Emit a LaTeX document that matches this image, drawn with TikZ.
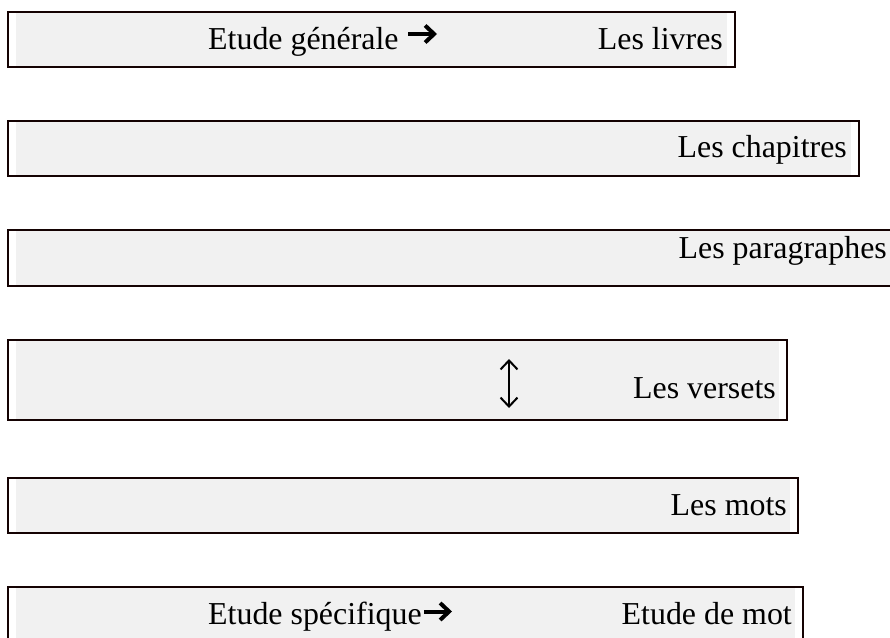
\documentclass[tikz,border=0pt]{standalone}
\usepackage{fontspec}
\setmainfont{Liberation Serif}
\usetikzlibrary{backgrounds,arrows.meta}
\definecolor{frameclr}{RGB}{20,2,2}
\definecolor{shadeclr}{RGB}{241,241,241}
\tikzset{
  frame/.style={draw=frameclr, line width=2pt, inner sep=0pt, anchor=north west, rectangle},
  shadefill/.style={fill=shadeclr},
  lbl/.style={font=\fontsize{31.9}{36}\selectfont, inner sep=0pt, text=black},
  lblL/.style={lbl, anchor=base west},
  lblR/.style={lbl, anchor=base east},
  heavyarrow/.style={line width=4pt, black, -{Straight Barb[length=9pt,width=17pt,line width=4pt]}},
}
\begin{document}
\begin{tikzpicture}[x=1pt,y=-1pt]
\useasboundingbox (0,0) rectangle (890,637);
\clip (0,0) rectangle (890,637);
% frames
\node[frame, minimum width=727pt, minimum height=55pt] (b1) at (7,11) {};
\node[frame, minimum width=851pt, minimum height=55pt] (b2) at (7,120) {};
\node[frame, minimum width=900pt, minimum height=56pt] (b3) at (7,229) {};
\node[frame, minimum width=779pt, minimum height=80pt] (b4) at (7,339) {};
\node[frame, minimum width=790pt, minimum height=55pt] (b5) at (7,477) {};
\node[frame, minimum width=795pt, minimum height=70pt] (b6) at (7,586) {};
\begin{scope}[on background layer]
  \foreach \b in {b1,b2,b3,b4,b5,b6}{
    \fill[shadefill] ([xshift=9pt]\b.north west) rectangle ([xshift=-9pt]\b.south east);
  }
\end{scope}
% texts
\node[lblL] (t1a) at (208,49) {Etude générale};
\node[lblR] (t1b) at (723,49) {Les livres};
\node[lblR] (t2) at (847,157) {Les chapitres};
\node[lblR] (t3) at (887,258) {Les paragraphes};
\node[lblR] (t4) at (776,398) {Les versets};
\node[lblR] (t5) at (787,515) {Les mots};
\node[lblL] (t6a) at (208,624) {Etude spécifique};
\node[lblR] (t6b) at (792,624) {Etude de mot};
% heavy right arrows
\coordinate (a1s) at (408,34);
\coordinate (a1e) at (437,34);
\draw[heavyarrow] (a1s) -- (a1e);
\coordinate (a6s) at (424,611.5);
\coordinate (a6e) at (452,611.5);
\draw[heavyarrow] (a6s) -- (a6e);
% vertical double arrow
\coordinate (vtop) at (509,359);
\coordinate (vbot) at (509,408);
\draw[line width=2pt, black, {Straight Barb[length=9pt,width=17pt,line width=2pt]}-{Straight Barb[length=9pt,width=17pt,line width=2pt]}] (vtop) -- (vbot);
\end{tikzpicture}
\end{document}
